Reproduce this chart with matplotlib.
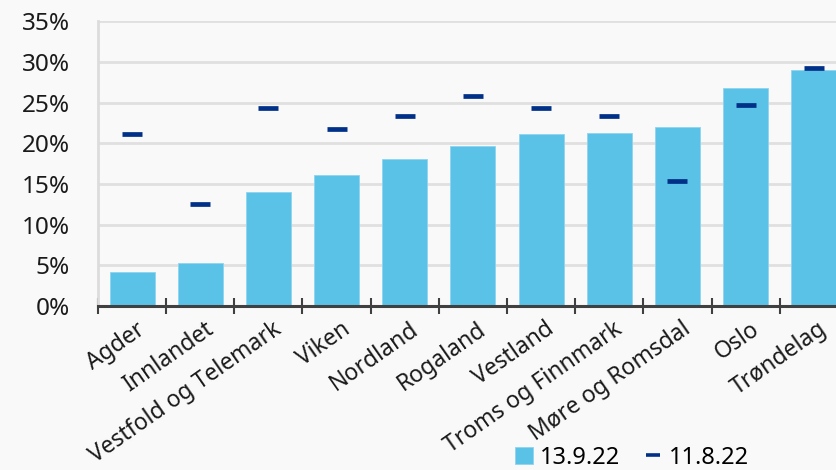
import matplotlib.pyplot as plt
from matplotlib.lines import Line2D
import numpy as np

regions = ["Agder", "Innlandet", "Vestfold og Telemark", "Viken", "Nordland",
           "Rogaland", "Vestland", "Troms og Finnmark", "Møre og Romsdal",
           "Oslo", "Trøndelag"]
sep_13 = [4.2, 5.3, 14.0, 16.1, 18.1, 19.7, 21.1, 21.2, 22.0, 26.8, 29.0]
aug_11 = [21.1, 12.5, 24.3, 21.8, 23.4, 25.8, 24.3, 23.4, 15.4, 24.7, 29.3]
yticks = [0, 5, 10, 15, 20, 25, 30, 35]

bar_color = "#5bc2e7"
dash_color = "#003087"
bg = "#f9f9f9"

plt.rcParams["font.family"] = ["Noto Sans", "DejaVu Sans"]

fig = plt.figure(figsize=(8.37, 4.70), dpi=100, facecolor=bg)
ax = fig.add_axes([0.117, 0.349, 0.896, 0.606], facecolor=bg)

x = np.arange(len(regions))
bars = ax.bar(x, sep_13, width=0.66, color=bar_color, edgecolor="#8fd4ee",
              linewidth=0.6, label="13.9.22", zorder=2)
ax.plot(x, aug_11, linestyle="none", marker="_", markersize=15,
        markeredgewidth=3.4, color=dash_color, label="11.8.22", zorder=3)

ax.set_xlim(-0.5, len(regions) - 0.5)
ax.set_ylim(0, 35)
ax.set_yticks(yticks)
ax.set_yticklabels([f"{v}%" for v in yticks], fontsize=17.5, color="#1a1a1a")
ax.tick_params(axis="y", length=0, pad=20)

ax.set_xticks(np.arange(len(regions) + 1) - 0.5)
ax.set_xticklabels([])
ax.tick_params(axis="x", direction="inout", length=12, width=1.5,
               color="#404040")
for i, name in enumerate(regions):
    ax.text(i + 0.06, -0.04, name, transform=ax.get_xaxis_transform(),
            rotation=35, rotation_mode="anchor", ha="right", va="top",
            fontsize=16.5, color="#1a1a1a")

ax.grid(axis="y", color="#e0e0e0", linewidth=2, zorder=0)
ax.set_axisbelow(True)
for side in ["top", "right"]:
    ax.spines[side].set_visible(False)
ax.spines["left"].set_color("#dcdcdc")
ax.spines["left"].set_linewidth(2)
ax.spines["bottom"].set_color("#404040")
ax.spines["bottom"].set_linewidth(2.2)
ax.spines["bottom"].set_zorder(4)

dash_handle = Line2D([], [], linestyle="none", marker="_", markersize=10,
                     markeredgewidth=2.6, color=dash_color)
fig.legend([bars, dash_handle], ["13.9.22", "11.8.22"], loc="center",
           bbox_to_anchor=(0.755, 0.026), ncol=2, frameon=False,
           fontsize=17, handlelength=0.75, handleheight=0.75,
           handletextpad=0.3, columnspacing=1.0, borderaxespad=0)

fig.savefig("out.png", dpi=100, facecolor=bg)
